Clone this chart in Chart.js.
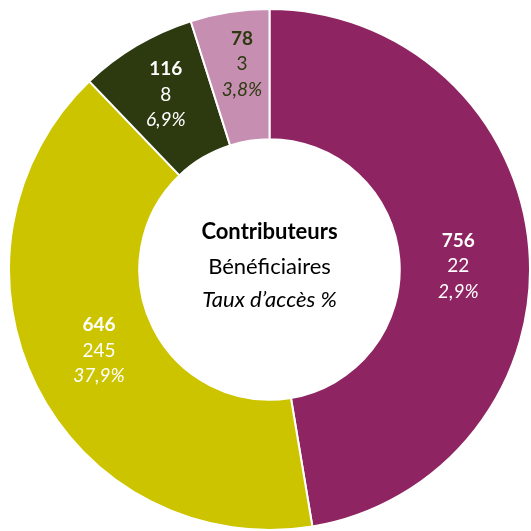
<!DOCTYPE html>
<html><head><meta charset="utf-8">
<script src="https://cdn.jsdelivr.net/npm/chart.js@4"></script>
<style>html,body{margin:0;padding:0;background:#fff}#wrap{width:531px;height:531px}</style>
</head><body><div id="wrap"><canvas id="c" width="531" height="531"></canvas></div>
<script>
const categories = ['Segment A', 'Segment B', 'Segment C', 'Segment D'];
const contributeurs = [756, 646, 116, 78];
const beneficiaires = [22, 245, 8, 3];
const tauxAcces = ['2,9%', '37,9%', '6,9%', '3,8%'];
const colors = ['#8E2461', '#CDC400', '#2D3A10', '#C68EB0'];
const labelColors = ['#ffffff', '#ffffff', '#ffffff', '#2D3A10'];
const centerLines = ['Contributeurs', 'Bénéficiaires', 'Taux d\u2019accès %'];

const FONT = 'Lato, "Open Sans", sans-serif';

const labelPlugin = {
  id: 'sliceLabels',
  afterDatasetsDraw(chart, args, opts) {
    const ctx = chart.ctx;
    const meta = chart.getDatasetMeta(0);
    ctx.save();
    ctx.textAlign = 'center';
    ctx.textBaseline = 'middle';
    meta.data.forEach((arc, i) => {
      const p = arc.getProps(['x','y','startAngle','endAngle','innerRadius','outerRadius'], true);
      const a = (p.startAngle + p.endAngle) / 2 + (opts.angleShift[i] || 0);
      const r = p.innerRadius + (p.outerRadius - p.innerRadius) * opts.radial[i];
      const cx = p.x + Math.cos(a) * r;
      const cy = p.y + Math.sin(a) * r;
      ctx.fillStyle = labelColors[i];
      ctx.font = 'bold 19px ' + FONT;
      ctx.fillText(String(contributeurs[i]), cx, cy - 25.5);
      ctx.font = '19px ' + FONT;
      ctx.fillText(String(beneficiaires[i]), cx, cy);
      ctx.font = 'italic 19px ' + FONT;
      ctx.fillText(tauxAcces[i], cx, cy + 25.5);
    });
    // center text
    const x = meta.data[0].x, y = meta.data[0].y;
    ctx.fillStyle = '#000000';
    ctx.font = 'bold 22px ' + FONT;
    ctx.fillText(centerLines[0], x, y - 38);
    ctx.font = '22px ' + FONT;
    ctx.fillText(centerLines[1], x, y - 3);
    ctx.font = 'italic 22px ' + FONT;
    ctx.fillText(centerLines[2], x, y + 30);
    ctx.restore();
  }
};

new Chart(document.getElementById('c'), {
  type: 'doughnut',
  data: {
    labels: categories,
    datasets: [{
      data: contributeurs,
      backgroundColor: colors,
      borderColor: '#ffffff',
      borderWidth: 2
    }]
  },
  options: {
    responsive: false,
    animation: false,
    cutout: '50%',
    layout: { padding: { left: 8, top: 8, right: 0, bottom: 0 } },
    plugins: {
      legend: { display: false },
      tooltip: { enabled: false },
      sliceLabels: { radial: [0.45, 0.45, 0.56, 0.59], angleShift: [0.065, 0.02, 0.0, 0.02] }
    }
  },
  plugins: [labelPlugin]
});
</script></body></html>
